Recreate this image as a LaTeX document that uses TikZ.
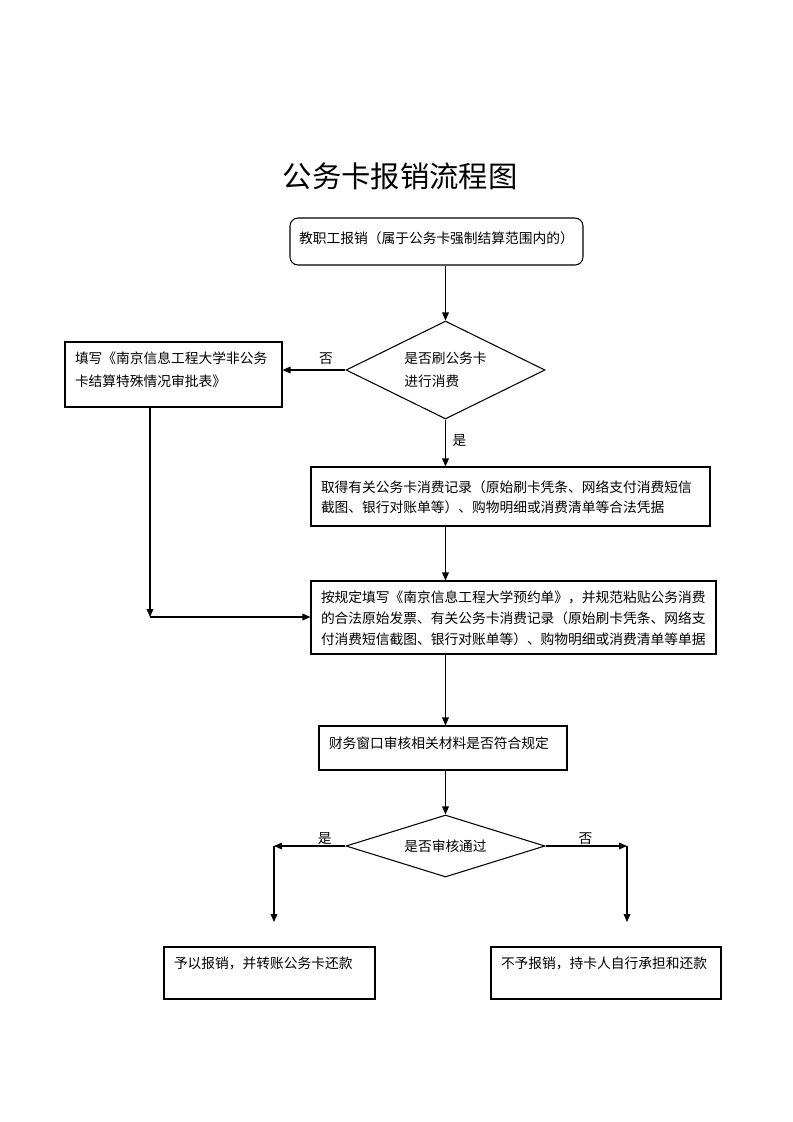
\documentclass[tikz,border=0pt]{standalone}
\usepackage{fontspec}
\newfontfamily\cjk{Noto Sans CJK SC}
\usetikzlibrary{shapes.geometric, arrows.meta, positioning}

\begin{document}
\begin{tikzpicture}[x=0.75pt, y=-0.75pt,
    every node/.style={font=\cjk\fontsize{10.3}{15.75}\selectfont},
    startstop/.style={rectangle, rounded corners=6pt, draw=black, line width=0.8pt, inner sep=0pt, text centered},
    process/.style={rectangle, draw=black, line width=0.8pt, align=left, inner xsep=7.5pt, inner ysep=0pt},
    decision/.style={diamond, draw=black, line width=0.8pt, inner sep=1pt, align=left},
    arrow/.style={line width=0.8pt, -{Triangle[length=6pt, width=5pt]}},
    yesno/.style={inner sep=1pt}
    ]
    \useasboundingbox (0,0) rectangle (793,1122);

    % Title
    \node (title) at (400,176) [font=\cjk\fontsize{22}{26}\selectfont] {公务卡报销流程图};

    % Main path
    \node (claim) at (436.5,241.5) [startstop, minimum width=219.75pt, text height=19pt, text depth=16.25pt] {教职工报销（属于公务卡强制结算范围内的）};
    \node (swipe) at (445.5,370) [decision, aspect=2, minimum width=149.25pt, minimum height=73.5pt, font=\cjk\fontsize{10.3}{17.25}\selectfont] {是否刷公务卡\\进行消费};
    \node (exempt) at (173.5,374.5) [process, text width=147.75pt, text height=16pt, text depth=32.75pt, font=\cjk\fontsize{10.3}{17.25}\selectfont] {填写《南京信息工程大学非公务\\卡结算特殊情况审批表》};
    \node (records) at (510.5,496.5) [process, text width=284.25pt, text height=19pt, text depth=25.25pt, font=\cjk\fontsize{10.3}{15}\selectfont] {取得有关公务卡消费记录（原始刷卡凭条、网络支付消费短信\\截图、银行对账单等）、购物明细或消费清单等合法凭据};
    \node (voucher) at (513.5,617.5) [process, text width=288.75pt, text height=16pt, text depth=38.75pt] {按规定填写《南京信息工程大学预约单》，并规范粘贴公务消费\\的合法原始发票、有关公务卡消费记录（原始刷卡凭条、网络支\\付消费短信截图、银行对账单等）、购物明细或消费清单等单据};
    \node (review) at (443,748) [process, text width=171pt, text height=16.75pt, text depth=16.25pt] {财务窗口审核相关材料是否符合规定};
    \node (pass) at (445.5,846) [decision, aspect=3.2, minimum width=149.25pt, minimum height=46.5pt] {是否审核通过};
    \node (approve) at (269.5,973) [process, text width=143.25pt, text height=16pt, text depth=23pt] {予以报销，并转账公务卡还款};
    \node (reject) at (606,973) [process, text width=157.5pt, text height=16pt, text depth=23pt] {不予报销，持卡人自行承担和还款};

    % Bends
    \coordinate (turn) at (150,617);
    \coordinate (yesC) at (274,846);
    \coordinate (yesEnd) at (274,922);
    \coordinate (noC) at (627,846);
    \coordinate (noEnd) at (627,922);

    % Arrows
    \draw [arrow] (claim.south -| swipe) -- (swipe.north);
    \draw [arrow] (swipe.west) -- node[above=3pt, pos=0.31, yesno] {否} (exempt.east |- swipe.west);
    \draw [arrow] (swipe.south) -- node[right=4pt, pos=0.44, yesno] {是} (records.north -| swipe);
    \draw [arrow] (records.south -| swipe) -- (voucher.north -| swipe);
    \draw [arrow] (exempt.south -| turn) -- (turn);
    \draw [arrow] (turn) -- (voucher.west |- turn);
    \draw [arrow] (voucher.south -| swipe) -- (review.north -| swipe);
    \draw [arrow] (review.south -| swipe) -- (pass.north);
    \draw [arrow] (pass.west) -- node[above, pos=0.29, yesno] {是} (yesC);
    \draw [arrow] (yesC) -- (yesEnd);
    \draw [arrow] (pass.east) -- node[above, pos=0.49, yesno] {否} (noC);
    \draw [arrow] (noC) -- (noEnd);

\end{tikzpicture}
\end{document}
